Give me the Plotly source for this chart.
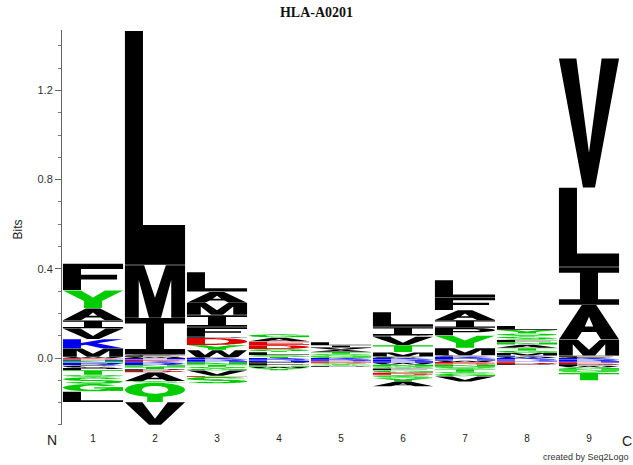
import numpy as np
import plotly.graph_objects as go

# ---------------- data ----------------
positions = [1, 2, 3, 4, 5, 6, 7, 8, 9]
tick_labels = ["1", "2", "3", "4", "5", "6", "7", "8", "9"]

# positive stacks (from zero upward): (residue, bits)
pos_1 = [("W", 0.005), ("M", 0.038), ("K", 0.042), ("V", 0.048), ("I", 0.036), ("A", 0.054), ("Y", 0.081), ("F", 0.120)]
pos_2 = [("W", 0.005), ("F", 0.005), ("C", 0.005), ("I", 0.165), ("M", 0.237), ("L", 1.050)]
pos_3 = [("C", 0.004), ("W", 0.032), ("Y", 0.022), ("D", 0.032), ("P", 0.005), ("F", 0.044), ("I", 0.054), ("M", 0.054), ("A", 0.050), ("L", 0.088)]
pos_4 = [("T", 0.006), ("S", 0.007), ("L", 0.014), ("Q", 0.013), ("D", 0.018), ("E", 0.016), ("A", 0.018), ("G", 0.015)]
pos_5 = [("G", 0.005), ("N", 0.006), ("S", 0.008), ("T", 0.008), ("A", 0.010), ("V", 0.010), ("I", 0.010), ("L", 0.014)]
pos_6 = [("C", 0.006), ("M", 0.020), ("T", 0.032), ("V", 0.038), ("P", 0.006), ("I", 0.037), ("L", 0.067)]
pos_7 = [("K", 0.006), ("C", 0.006), ("M", 0.033), ("Y", 0.056), ("P", 0.034), ("I", 0.035), ("A", 0.045), ("F", 0.056), ("L", 0.079)]
pos_8 = [("W", 0.005), ("K", 0.006), ("M", 0.012), ("G", 0.010), ("T", 0.012), ("A", 0.015), ("N", 0.010), ("F", 0.012), ("S", 0.014), ("Q", 0.014), ("Y", 0.016), ("L", 0.018)]
pos_9 = [("C", 0.005), ("F", 0.005), ("M", 0.072), ("A", 0.156), ("I", 0.170), ("L", 0.356), ("V", 0.580)]

# negative stacks (from zero downward): (residue, bits below zero)
neg_1 = [("D", 0.003), ("E", 0.004), ("H", 0.006), ("N", 0.008), ("R", 0.012), ("C", 0.011), ("P", 0.010), ("T", 0.022), ("Q", 0.010), ("S", 0.030), ("G", 0.034), ("L", 0.048)]
neg_2 = [("H", 0.006), ("E", 0.008), ("K", 0.008), ("R", 0.010), ("N", 0.008), ("T", 0.010), ("P", 0.008), ("D", 0.006), ("A", 0.040), ("S", 0.006), ("Q", 0.088), ("V", 0.102)]
neg_3 = [("K", 0.006), ("R", 0.008), ("H", 0.006), ("N", 0.010), ("T", 0.010), ("Q", 0.008), ("G", 0.007), ("V", 0.025), ("E", 0.004), ("S", 0.030)]
neg_4 = [("K", 0.005), ("R", 0.007), ("H", 0.006), ("P", 0.008), ("F", 0.008), ("N", 0.006), ("W", 0.006), ("Y", 0.010)]
neg_5 = [("K", 0.005), ("R", 0.006), ("H", 0.004), ("E", 0.005), ("D", 0.004), ("Y", 0.005), ("Q", 0.006), ("P", 0.005)]
neg_6 = [("K", 0.006), ("R", 0.008), ("H", 0.008), ("W", 0.008), ("N", 0.008), ("Q", 0.008), ("F", 0.010), ("G", 0.010), ("E", 0.006), ("D", 0.006), ("S", 0.012), ("Y", 0.015), ("A", 0.022)]
neg_7 = [("R", 0.006), ("H", 0.006), ("W", 0.006), ("E", 0.006), ("D", 0.006), ("N", 0.010), ("Q", 0.010), ("T", 0.012), ("S", 0.008), ("G", 0.012), ("V", 0.024)]
neg_8 = [("K", 0.006), ("R", 0.006), ("H", 0.004), ("E", 0.006), ("D", 0.006), ("P", 0.004)]
neg_9 = [("K", 0.006), ("R", 0.008), ("H", 0.006), ("E", 0.008), ("P", 0.008), ("W", 0.006), ("G", 0.008), ("N", 0.008), ("Q", 0.008), ("T", 0.034)]

positive_stacks = [pos_1, pos_2, pos_3, pos_4, pos_5, pos_6, pos_7, pos_8, pos_9]
negative_stacks = [neg_1, neg_2, neg_3, neg_4, neg_5, neg_6, neg_7, neg_8, neg_9]

# ---------------- colours ----------------
BLACK, GREEN, RED, BLUE = "#000000", "#00CC00", "#DD0000", "#0000EE"
COLORS = {}
for aa in "ACFILMPVW":
    COLORS[aa] = BLACK
for aa in "GNQSTY":
    COLORS[aa] = GREEN
for aa in "DE":
    COLORS[aa] = RED
for aa in "HKR":
    COLORS[aa] = BLUE


# ---------------- glyph outlines (unit box) ----------------
def ell(cx, cy, rx, ry, a0, a1, n=40):
    t = np.radians(np.linspace(a0, a1, n))
    return list(zip(cx + rx * np.cos(t), cy + ry * np.sin(t)))


def ring_arc(cx, cy, rxo, ryo, rxi, ryi, a0, a1):
    return ell(cx, cy, rxo, ryo, a0, a1) + ell(cx, cy, rxi, ryi, a1, a0)


P_OUT = [(0, 0), (0, 1), (0.62, 1)] + ell(0.62, 0.71, 0.38, 0.29, 90, -90, 20) + [(0.3, 0.42), (0.3, 0)]
P_HOLE = [(0.3, 0.58), (0.6, 0.58)] + ell(0.6, 0.71, 0.15, 0.13, -90, 90, 14) + [(0.3, 0.84)]

GLYPHS = {
    "A": [[[(0, 0), (0.38, 1), (0.62, 1), (1, 0), (0.7, 0), (0.62, 0.22), (0.38, 0.22), (0.3, 0)],
           [(0.43, 0.38), (0.57, 0.38), (0.5, 0.66)]]],
    "C": [[ring_arc(0.5, 0.5, 0.5, 0.5, 0.22, 0.3, 40, 320)]],
    "D": [[[(0, 0), (0, 1), (0.45, 1)] + ell(0.45, 0.5, 0.55, 0.5, 90, -90) + [(0.45, 0)],
           [(0.3, 0.18), (0.3, 0.82), (0.45, 0.82)] + ell(0.45, 0.5, 0.25, 0.32, 90, -90) + [(0.45, 0.18)]]],
    "E": [[[(0, 0), (0, 1), (1, 1), (1, 0.83), (0.3, 0.83), (0.3, 0.58), (0.9, 0.58), (0.9, 0.42),
            (0.3, 0.42), (0.3, 0.17), (1, 0.17), (1, 0)]]],
    "F": [[[(0, 0), (0, 1), (1, 1), (1, 0.8), (0.3, 0.8), (0.3, 0.58), (0.9, 0.58), (0.9, 0.4),
            (0.3, 0.4), (0.3, 0)]]],
    "G": [[ring_arc(0.5, 0.5, 0.5, 0.5, 0.22, 0.3, 40, 350)],
          [[(0.52, 0.38), (1, 0.38), (1, 0.55), (0.52, 0.55)]],
          [[(0.78, 0.05), (1, 0.05), (1, 0.55), (0.78, 0.55)]]],
    "H": [[[(0, 0), (0, 1), (0.3, 1), (0.3, 0.6), (0.7, 0.6), (0.7, 1), (1, 1), (1, 0), (0.7, 0),
            (0.7, 0.42), (0.3, 0.42), (0.3, 0)]]],
    "I": [[[(0, 0), (1, 0), (1, 0.15), (0.65, 0.15), (0.65, 0.85), (1, 0.85), (1, 1), (0, 1),
            (0, 0.85), (0.35, 0.85), (0.35, 0.15), (0, 0.15)]]],
    "K": [[[(0, 0), (0, 1), (0.3, 1), (0.3, 0.58), (0.68, 1), (1, 1), (0.57, 0.55), (1, 0), (0.64, 0),
            (0.38, 0.38), (0.3, 0.3), (0.3, 0)]]],
    "L": [[[(0, 0), (1, 0), (1, 0.17), (0.3, 0.17), (0.3, 1), (0, 1)]]],
    "M": [[[(0, 0), (0, 1), (0.32, 1), (0.5, 0.38), (0.68, 1), (1, 1), (1, 0), (0.77, 0), (0.77, 0.72),
            (0.6, 0), (0.4, 0), (0.23, 0.72), (0.23, 0)]]],
    "N": [[[(0, 0), (0, 1), (0.3, 1), (0.7, 0.4), (0.7, 1), (1, 1), (1, 0), (0.7, 0), (0.3, 0.6), (0.3, 0)]]],
    "P": [[P_OUT, P_HOLE]],
    "Q": [[ell(0.5, 0.63, 0.5, 0.37, 0, 360), ell(0.5, 0.63, 0.22, 0.2, 0, 360)],
          [[(0.37, 0), (0.63, 0), (0.63, 0.3), (0.37, 0.3)]]],
    "R": [[P_OUT, P_HOLE],
          [[(0.55, 0.45), (0.82, 0.45), (1, 0), (0.7, 0)]]],
    "S": [[ring_arc(0.5, 0.71, 0.5, 0.29, 0.22, 0.12, 20, 290)],
          [ring_arc(0.5, 0.29, 0.5, 0.29, 0.22, 0.12, 200, 470)]],
    "T": [[[(0, 1), (1, 1), (1, 0.82), (0.65, 0.82), (0.65, 0), (0.35, 0), (0.35, 0.82), (0, 0.82)]]],
    "V": [[[(0, 1), (0.29, 1), (0.5, 0.27), (0.71, 1), (1, 1), (0.6, 0), (0.4, 0)]]],
    "W": [[[(0, 1), (0.2, 1), (0.3, 0.3), (0.42, 1), (0.58, 1), (0.7, 0.3), (0.8, 1), (1, 1),
            (0.85, 0), (0.62, 0), (0.5, 0.65), (0.38, 0), (0.15, 0)]]],
    "Y": [[[(0, 1), (0.3, 1), (0.5, 0.6), (0.7, 1), (1, 1), (0.65, 0.4), (0.65, 0), (0.35, 0), (0.35, 0.4)]]],
}

HALF_W = 0.485


def glyph_shapes(letter, xc, y0, y1):
    shapes = []
    x0 = xc - HALF_W
    w = 2 * HALF_W
    h = y1 - y0
    for part in GLYPHS[letter]:
        segs = []
        for poly in part:
            pts = ["%.4f,%.5f" % (x0 + px * w, y0 + py * h) for px, py in poly]
            segs.append("M" + " L".join(pts) + " Z")
        shapes.append(dict(type="path", path=" ".join(segs), xref="x", yref="y",
                           fillcolor=COLORS[letter], line=dict(width=0), layer="above"))
    return shapes


shapes = []
for xc, stack in zip(positions, positive_stacks):
    base = 0.0
    for letter, bits in stack:
        gap = min(0.0016, 0.12 * bits)
        shapes += glyph_shapes(letter, xc, base + gap / 2, base + bits - gap / 2)
        base += bits
for xc, stack in zip(positions, negative_stacks):
    base = 0.0
    for letter, bits in stack:
        gap = min(0.0016, 0.12 * bits)
        shapes += glyph_shapes(letter, xc, -(base + bits) + gap / 2, -base - gap / 2)
        base += bits

pos_tot = [sum(b for _, b in s) for s in positive_stacks]

fig = go.Figure()
fig.add_trace(go.Scatter(x=positions, y=pos_tot, mode="markers",
                         marker=dict(opacity=0), hoverinfo="x+y", showlegend=False))

fig.update_layout(
    width=633, height=465,
    margin=dict(l=62, r=13, t=30, b=40, autoexpand=False),
    paper_bgcolor="white", plot_bgcolor="white",
    shapes=shapes,
    showlegend=False,
    title=dict(text="<b>HLA-A0201</b>", x=0.5, xref="container", y=1 - 12 / 465,
               yref="container", xanchor="center", yanchor="middle",
               font=dict(family="Liberation Serif", size=14, color="#111")),
    xaxis=dict(range=[0.5, 9.5], tickmode="array", tickvals=positions, ticktext=tick_labels,
               showline=False, showgrid=False, zeroline=False, ticks="outside", ticklen=4,
               tickcolor="rgba(0,0,0,0)", automargin=False,
               tickfont=dict(family="Liberation Sans", size=10, color="#222"), fixedrange=True),
    yaxis=dict(range=[-0.3004, 1.4709], tickmode="array", tickvals=[0, 0.4, 0.8, 1.2],
               ticktext=["0.0", "0.4", "0.8", "1.2"], showline=True, linecolor="#666",
               linewidth=1, showgrid=False, zeroline=False, ticks="outside", ticklen=6,
               tickcolor="#666", automargin=False,
               minor=dict(tickmode="linear", tick0=0, dtick=0.1, ticks="outside", ticklen=3,
                          tickcolor="#777"),
               tickfont=dict(family="Liberation Sans", size=11, color="#333"), fixedrange=True),
    annotations=[
        dict(text="Bits", xref="paper", yref="paper", x=-44 / 558, y=0.495, textangle=-90,
             showarrow=False, xanchor="center", yanchor="middle",
             font=dict(family="Liberation Sans", size=12, color="#222")),
        dict(text="N", xref="paper", yref="paper", x=-10 / 558, y=-15 / 395, showarrow=False,
             xanchor="center", yanchor="middle",
             font=dict(family="Liberation Sans", size=14, color="#222")),
        dict(text="C", xref="paper", yref="paper", x=565 / 558, y=-16 / 395, showarrow=False,
             xanchor="center", yanchor="middle",
             font=dict(family="Liberation Sans", size=14, color="#222")),
        dict(text="created by Seq2Logo", xref="paper", yref="paper", x=569 / 558, y=-32 / 395,
             showarrow=False, xanchor="right", yanchor="middle",
             font=dict(family="Liberation Sans", size=9, color="#333")),
    ],
)

fig.write_html("out.html", config={"displayModeBar": False},
               post_script="document.body.style.margin='0';document.body.style.overflow='hidden';")
